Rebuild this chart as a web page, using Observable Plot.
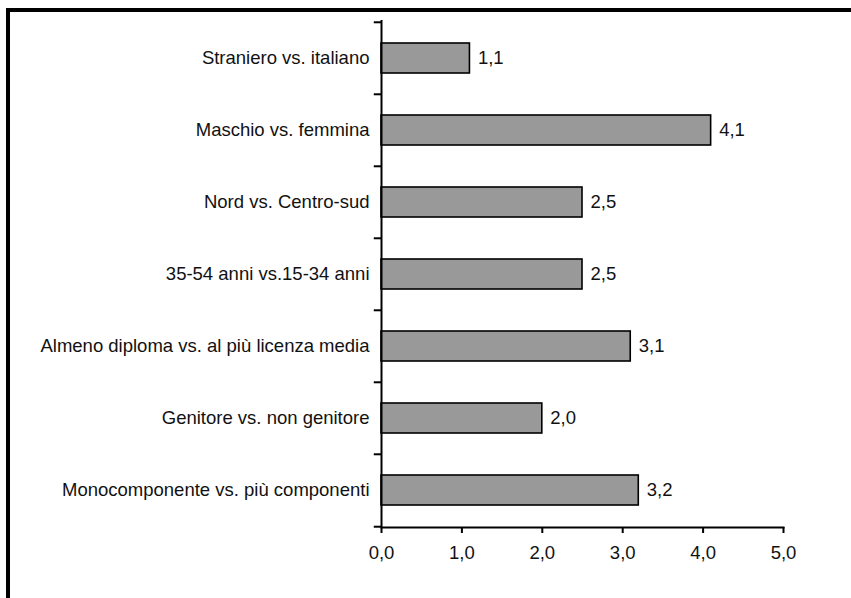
<!DOCTYPE html>
<html><head><meta charset="utf-8">
<script src="https://cdn.jsdelivr.net/npm/d3@7"></script>
<script src="https://cdn.jsdelivr.net/npm/@observablehq/plot@0.6"></script>
<style>
html,body{margin:0;padding:0;background:#fff;overflow:hidden;}
#wrap{position:relative;width:851px;height:598px;overflow:hidden;}
#frame{position:absolute;left:6px;top:8px;width:900px;height:700px;border-top:4px solid #000;border-left:4px solid #000;}
svg{position:absolute;left:0;top:0;}
</style></head>
<body><div id="wrap"><div id="frame"></div></div>
<script>
const categories = ["Straniero vs. italiano","Maschio vs. femmina","Nord vs. Centro-sud","35-54 anni vs.15-34 anni","Almeno diploma vs. al più licenza media","Genitore vs. non genitore","Monocomponente vs. più componenti"];
const values = [1.1, 4.1, 2.5, 2.5, 3.1, 2.0, 3.2];
const xTicks = [0, 1, 2, 3, 4, 5];

const data = categories.map((c, i) => ({cat: c, v: values[i]}));
const W = 851, H = 598, mt = 20, mb = 71, ml = 381, mr = 68;
const step = (H - mt - mb) / categories.length;
const fmt = d => d.toFixed(1).replace(".", ",");
const font = "Liberation Sans, Arial, sans-serif";
const fs = 18.5;

const chart = Plot.plot({
  width: W, height: H,
  marginTop: mt, marginBottom: mb, marginLeft: ml, marginRight: mr,
  style: {fontFamily: font, fontSize: fs + "px", color: "#111", background: "transparent"},
  x: {domain: [0, 5], label: null},
  y: {domain: categories, paddingInner: 0.59, paddingOuter: 0.295, axis: null},
  marks: [
    Plot.barX(data, {x: "v", y: "cat", fill: "#999999", stroke: "#000", strokeWidth: 1.6}),
    Plot.text(data, {x: "v", y: "cat", text: d => fmt(d.v), textAnchor: "start", dx: 8, fill: "#111", fontSize: fs}),
    Plot.text(data, {x: 0, y: "cat", text: "cat", textAnchor: "end", dx: -12, fill: "#111", fontSize: fs}),
    Plot.ruleY(data, {y: "cat", x1: 0, x2: -0.09, dy: -step / 2, stroke: "#000", strokeWidth: 2}),
    Plot.ruleY(data.slice(-1), {y: "cat", x1: 0, x2: -0.09, dy: step / 2, stroke: "#000", strokeWidth: 2}),
    Plot.ruleX([0], {stroke: "#000", strokeWidth: 2}),
    Plot.frame({anchor: "bottom", stroke: "#000", strokeWidth: 2}),
    Plot.axisX({ticks: xTicks, tickFormat: fmt, tickSize: 6, tickPadding: 12, strokeWidth: 2, stroke: "#000", fill: "#111", fontSize: fs, label: null})
  ]
});
document.getElementById("wrap").appendChild(chart);
</script>
</body></html>
